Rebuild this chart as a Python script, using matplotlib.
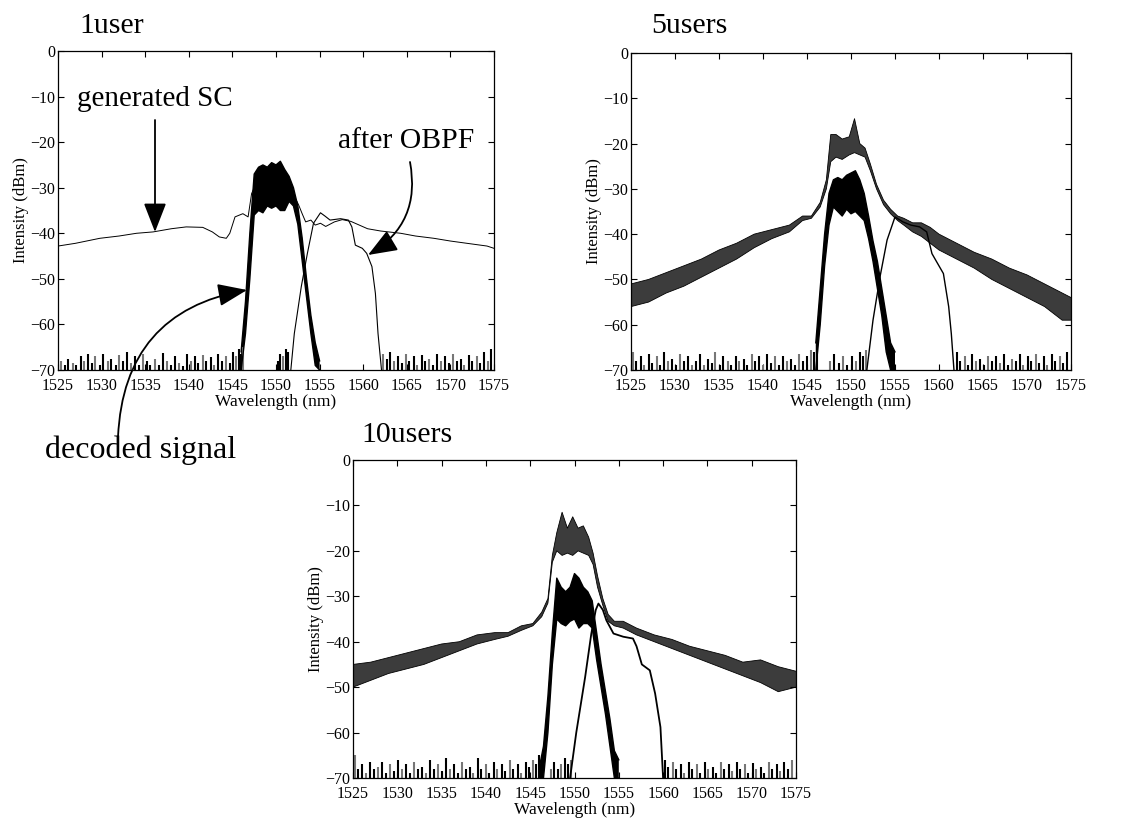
import numpy as np
import matplotlib
matplotlib.use("Agg")
import matplotlib.pyplot as plt

plt.rcParams['font.family'] = ['Liberation Serif', 'DejaVu Serif']
plt.rcParams['axes.unicode_minus'] = True

# ---------------- data ----------------
titles = ["1user", "5users", "10users"]
x_ticks = [1525, 1530, 1535, 1540, 1545, 1550, 1555, 1560, 1565, 1570, 1575]
y_ticks = [0, -10, -20, -30, -40, -50, -60, -70]

# Panel 1: generated SC (thin line)
sc1_x = [1525, 1527, 1529.8, 1532, 1534, 1535.9, 1538, 1539.7, 1541.6, 1542.7, 1543.5,
         1544.3, 1544.7, 1545.3, 1546.2, 1546.8, 1547.2, 1547.5, 1549.5, 1551.5, 1552.4,
         1552.6, 1553.0, 1553.4, 1554.0, 1554.5, 1555.1, 1555.7, 1556.7, 1557.6, 1558.6,
         1560.5, 1562.0, 1564.3, 1566.0, 1568.1, 1570.0, 1571.9, 1574.2, 1575]
sc1_y = [-42.8, -42.2, -41.1, -40.6, -40.0, -39.7, -39.0, -38.6, -38.7, -39.7, -40.8,
         -41.1, -40.0, -36.4, -35.7, -36.4, -31.3, -30.0, -29.0, -31.0, -33.0,
         -33.8, -35.7, -37.5, -37.1, -38.2, -37.8, -38.5, -37.5, -37.0, -37.4,
         -39.0, -39.5, -40.0, -40.6, -41.1, -41.7, -42.2, -42.8, -43.3]
# Panel 1: after OBPF (thin line)
obpf1_x = [1551.7, 1552.1, 1552.9, 1553.6, 1554.3, 1555.1, 1555.6, 1556.2, 1557.4, 1558.3,
           1558.7, 1559.1, 1559.9, 1560.4, 1561.0, 1561.4, 1561.7, 1562.1]
obpf1_y = [-70, -62, -51.7, -44.4, -37.8, -35.5, -36.2, -37.1, -36.8, -37.1,
           -38.6, -42.6, -43.3, -44.4, -47.3, -53.2, -62, -70]
# Panel 1: decoded signal (noisy band, upper / lower envelope)
dec1_x = [1546.0, 1546.5, 1547.0, 1547.5, 1548.0, 1548.5, 1549.0, 1549.5, 1550.0, 1550.5,
          1551.0, 1551.5, 1552.0, 1552.5, 1553.0, 1553.5, 1554.0, 1554.5, 1555.0]
dec1_hi = [-66, -55, -40, -27, -25.5, -25, -25.5, -24.5, -25, -24.2,
           -26, -27.5, -30, -34, -41, -50, -58, -64, -68]
dec1_lo = [-70, -62, -50, -36, -35, -35.5, -34, -34.5, -34, -35,
           -35, -33, -34, -38, -46, -54, -62, -69, -70]
# Panel 1: noise-floor spikes (wavelength, top)
floor1 = [(1525.3, -68), (1525.8, -69), (1526.2, -67.5), (1526.7, -68.5), (1527.1, -69),
          (1527.6, -67), (1528.0, -68), (1528.4, -66.5), (1528.9, -68.5), (1529.3, -67),
          (1529.8, -69), (1530.2, -66.5), (1530.7, -68), (1531.1, -67.5), (1531.6, -69),
          (1532.0, -66.8), (1532.5, -68), (1532.9, -66), (1533.4, -68.5), (1533.8, -67),
          (1534.3, -69), (1534.7, -66.5), (1535.2, -68), (1535.6, -69), (1536.1, -67.5),
          (1536.6, -69), (1537.0, -66.2), (1537.5, -68), (1538.0, -69), (1538.4, -67),
          (1538.9, -68.5), (1539.3, -69.2), (1539.8, -66.5), (1540.2, -68), (1540.7, -67),
          (1541.1, -68.5), (1541.6, -66.8), (1542.0, -68), (1542.5, -67.2), (1542.9, -69),
          (1543.4, -66.5), (1543.8, -68), (1544.3, -67), (1544.7, -68.5), (1545.1, -66),
          (1545.4, -67), (1545.7, -65.5), (1546.0, -66.5), (1546.2, -65),
          (1550.2, -68), (1550.5, -66.5), (1550.8, -67), (1551.1, -65.5), (1551.4, -66),
          (1562.3, -66.5), (1562.7, -67.5), (1563.1, -66), (1563.5, -68), (1564.0, -67),
          (1564.4, -68.5), (1564.9, -66.5), (1565.3, -68), (1565.8, -67), (1566.2, -69),
          (1566.7, -66.8), (1567.1, -68), (1567.6, -67.5), (1568.0, -69), (1568.5, -66.5),
          (1568.9, -68), (1569.4, -67), (1569.8, -68.5), (1570.3, -66.5), (1570.7, -68),
          (1571.2, -67.5), (1571.6, -69), (1572.1, -66.8), (1572.5, -68), (1573.0, -67),
          (1573.4, -68.5), (1573.9, -66), (1574.3, -68), (1574.7, -65.5)]

# Panel 2: SC (noisy band)
sc2_x = [1525, 1527, 1529, 1531, 1533, 1535, 1537, 1539, 1541, 1543, 1544.5, 1545.5,
         1546.5, 1547.2, 1547.7, 1548.3, 1549, 1549.8, 1550.4, 1551, 1551.6, 1552.2,
         1552.9, 1553.7, 1554.5, 1555.3, 1556, 1557, 1558, 1559, 1560, 1562, 1564,
         1566, 1568, 1570, 1572, 1574, 1575]
sc2_hi = [-51, -50, -48.5, -47, -45.5, -43.5, -42, -40, -39, -38, -36, -36,
          -33, -28, -18, -18, -19, -18.5, -14.5, -20, -21, -24.5,
          -29, -32.5, -34.5, -36, -36.5, -37.5, -37.5, -38.5, -40, -42, -44,
          -45.5, -47.5, -49, -51, -53, -54]
sc2_lo = [-56, -55, -53, -51.5, -49.5, -47.5, -45.5, -43, -41, -39.5, -37, -36.5,
          -34, -30, -24, -23, -23.5, -22.5, -22, -22.5, -23, -26,
          -30, -33.5, -35.5, -37, -38, -39.5, -40.5, -42, -43.5, -45.5, -47.5,
          -50, -52, -54, -56, -59, -59]
# Panel 2: decoded
dec2_x = [1546.0, 1546.5, 1547.0, 1547.5, 1548.0, 1548.5, 1549.0, 1549.5, 1550.0, 1550.5,
          1551.0, 1551.5, 1552.0, 1552.5, 1553.0, 1553.5, 1554.0, 1554.5, 1555.0]
dec2_hi = [-64, -52, -40, -31, -28, -27.5, -28, -27, -26.5, -26,
           -28, -31, -36, -41.5, -46, -52, -58, -64, -66]
dec2_lo = [-70, -60, -47, -38, -34, -35, -36, -34.5, -35.5, -35,
           -36, -37, -41, -46, -52, -58, -66, -70, -70]
# Panel 2: after OBPF
obpf2_x = [1551.8, 1552.5, 1553.3, 1554.1, 1555.0, 1555.9, 1556.8, 1557.8, 1558.6, 1559.2,
           1559.7, 1560.5, 1561.1, 1561.4, 1561.7]
obpf2_y = [-70, -59, -49.4, -41.3, -36.2, -37.3, -38, -38.4, -39.5, -44.3,
           -46, -48.7, -56, -62, -70]
floor2 = [(1525.2, -66), (1525.6, -68), (1526.1, -67), (1526.5, -69), (1527.0, -66.5),
          (1527.4, -68.5), (1527.9, -67), (1528.3, -69), (1528.8, -66), (1529.2, -68),
          (1529.7, -67.5), (1530.1, -69), (1530.6, -66.5), (1531.0, -68), (1531.5, -67),
          (1531.9, -69), (1532.4, -68), (1532.8, -66.5), (1533.3, -69), (1533.7, -67.5),
          (1534.2, -68.5), (1534.6, -66), (1535.1, -69), (1535.5, -67), (1536.0, -68),
          (1536.4, -69), (1536.9, -66.8), (1537.3, -68), (1537.8, -67.5), (1538.2, -69),
          (1538.7, -66.5), (1539.1, -68), (1539.6, -67), (1540.0, -69), (1540.5, -66.5),
          (1540.9, -68.5), (1541.4, -67), (1541.8, -69), (1542.3, -66.8), (1542.7, -68),
          (1543.2, -67.5), (1543.6, -69), (1544.1, -66.5), (1544.5, -68), (1545.0, -67),
          (1545.4, -65.5), (1545.8, -66), (1546.1, -64.5),
          (1547.6, -68), (1548.1, -66.5), (1548.6, -68.5), (1549.1, -67), (1549.6, -69),
          (1550.1, -66.8), (1550.6, -68), (1551.0, -66), (1551.4, -67), (1551.7, -65.5),
          (1562.0, -66), (1562.4, -68), (1562.9, -67), (1563.3, -69), (1563.8, -66.5),
          (1564.2, -68), (1564.7, -67.5), (1565.1, -69), (1565.6, -66.8), (1566.0, -68),
          (1566.5, -67), (1566.9, -68.5), (1567.4, -66.5), (1567.8, -69), (1568.3, -67.5),
          (1568.7, -68), (1569.2, -66.5), (1569.6, -69), (1570.1, -67), (1570.5, -68),
          (1571.0, -66.5), (1571.4, -68.5), (1571.9, -67), (1572.3, -69), (1572.8, -66.5),
          (1573.2, -68), (1573.7, -67), (1574.1, -68.5), (1574.6, -66)]

# Panel 3: SC (noisy band)
sc3_x = [1525, 1527, 1529, 1531, 1533, 1535, 1537, 1539, 1541, 1542.5, 1544, 1545.3,
         1546.3, 1547.0, 1547.5, 1548.0, 1548.6, 1549.2, 1549.8, 1550.4, 1551.0, 1551.6,
         1552.1, 1552.6, 1553.2, 1553.8, 1554.5, 1555.5, 1557, 1559, 1561, 1563, 1565,
         1567, 1569, 1571, 1573, 1575]
sc3_hi = [-45, -44.5, -43.5, -42.5, -41.5, -40.5, -40, -38.5, -38, -38, -36.5, -36,
          -33.5, -30.5, -21, -16, -11.5, -15, -12.5, -15, -14.5, -17,
          -20.5, -25.5, -30.5, -34, -35.5, -35.5, -37, -38.5, -39.5, -41, -42,
          -43, -44.5, -44, -45.5, -46.5]
sc3_lo = [-50, -48.5, -47, -46, -45, -43.5, -42, -40.5, -39.5, -38.8, -37.5, -36.5,
          -34.5, -31.5, -22.5, -20, -21, -20.5, -21, -20, -20.5, -21,
          -23, -28, -32, -35.5, -36.5, -37, -38.5, -40, -41.5, -43, -44.5,
          -46, -47.5, -49, -51, -50]
# Panel 3: decoded
dec3_x = [1546.0, 1546.5, 1547.0, 1547.5, 1548.0, 1548.5, 1549.0, 1549.5, 1550.0, 1550.5,
          1551.0, 1551.5, 1552.0, 1552.5, 1553.0, 1553.5, 1554.0, 1554.5, 1555.0]
dec3_hi = [-68, -63, -52, -38, -26, -28, -29, -28, -25, -26,
           -28, -29, -31, -38, -45, -51, -57, -64, -66]
dec3_lo = [-70, -70, -60, -45, -35, -36, -36.5, -35.5, -35, -37,
           -36, -36, -37, -44, -50, -56, -63, -70, -70]
# Panel 3: after OBPF
obpf3_x = [1549.5, 1550.2, 1551.2, 1551.9, 1552.4, 1552.7, 1553.2, 1553.6, 1554.4, 1555.5,
           1556.6, 1557.0, 1557.6, 1558.5, 1559.1, 1559.7, 1560.0]
obpf3_y = [-70, -60, -47.8, -38.2, -33, -31.6, -33, -35.3, -38.2, -38.9,
           -39.3, -41, -45, -46.3, -51.4, -58.8, -70]
floor3 = [(1525.2, -65), (1525.6, -68), (1526.0, -67), (1526.5, -69), (1526.9, -66.5),
          (1527.4, -68), (1527.8, -67.5), (1528.3, -66.5), (1528.7, -69), (1529.2, -67),
          (1529.6, -68.5), (1530.1, -66), (1530.5, -68), (1531.0, -67), (1531.4, -69),
          (1531.9, -66.5), (1532.3, -68), (1532.8, -67.5), (1533.2, -69), (1533.7, -66),
          (1534.1, -68), (1534.6, -67), (1535.0, -68.5), (1535.5, -65.5), (1535.9, -68),
          (1536.4, -67), (1536.8, -69), (1537.3, -66.5), (1537.7, -68), (1538.2, -67.5),
          (1538.6, -69), (1539.1, -65.5), (1539.5, -68), (1540.0, -67), (1540.4, -69),
          (1540.9, -66.5), (1541.3, -68), (1541.8, -67), (1542.2, -68.5), (1542.7, -66),
          (1543.1, -68), (1543.6, -67), (1544.0, -69), (1544.5, -66.5), (1544.9, -67.5),
          (1545.3, -66), (1545.7, -67), (1546.0, -65),
          (1547.3, -68), (1547.7, -66.5), (1548.1, -68), (1548.5, -67), (1548.9, -65.5),
          (1549.3, -67), (1549.6, -66),
          (1560.2, -66), (1560.6, -67.5), (1561.1, -66.5), (1561.5, -68), (1562.0, -67),
          (1562.4, -69), (1562.9, -66.5), (1563.3, -68), (1563.8, -67), (1564.2, -69),
          (1564.7, -66.5), (1565.1, -68), (1565.6, -67.5), (1566.0, -69), (1566.5, -66.5),
          (1566.9, -68), (1567.4, -67), (1567.8, -68.5), (1568.3, -66.5), (1568.7, -68),
          (1569.2, -67), (1569.6, -69), (1570.1, -66.8), (1570.5, -68), (1571.0, -67.5),
          (1571.4, -69), (1571.9, -66.5), (1572.3, -68), (1572.8, -67), (1573.2, -68.5),
          (1573.7, -66.5), (1574.1, -68), (1574.6, -66)]

# ---------------- figure ----------------
W, H = 1131, 819
fig = plt.figure(figsize=(W / 100, H / 100), dpi=100)
fig.patch.set_facecolor('white')


def px_axes(x0, y0, x1, y1):
    return fig.add_axes([x0 / W, 1 - y1 / H, (x1 - x0) / W, (y1 - y0) / H])


def fpx(x, y):
    return (x / W, 1 - y / H)


def style(ax):
    ax.set_xlim(1525, 1575)
    ax.set_ylim(-70, 0)
    ax.set_xticks(x_ticks)
    ax.set_yticks(y_ticks)
    ax.tick_params(direction='in', top=True, right=True, length=4, width=0.8,
                   labelsize=11.5, colors='black')
    ax.tick_params(axis='x', pad=6)
    ax.tick_params(axis='y', pad=2)
    for s in ax.spines.values():
        s.set_linewidth(0.9)
        s.set_color('black')
    ax.set_xlabel("Wavelength (nm)", fontsize=12.5, labelpad=0)
    ax.set_ylabel("Intensity (dBm)", fontsize=12, labelpad=1)


def draw_floor(ax, pairs):
    xs = [p[0] for p in pairs]
    ys = [p[1] for p in pairs]
    cols = ['black' if i % 3 else '#777777' for i in range(len(xs))]
    ax.vlines(xs, -70, ys, colors=cols, linewidth=1.5)


def band(ax, x, hi, lo, face='black', lw=0.7):
    ax.fill_between(x, lo, hi, facecolor=face, linewidth=0)
    ax.plot(x, hi, color='black', lw=lw)
    ax.plot(x, lo, color='black', lw=lw)


ax1 = px_axes(58, 51, 494, 370)
ax2 = px_axes(631, 53, 1071, 370)
ax3 = px_axes(353, 460, 796, 778)

# panel 1
draw_floor(ax1, floor1)
ax1.plot(sc1_x, sc1_y, color='black', lw=0.7)
ax1.plot(obpf1_x, obpf1_y, color='black', lw=0.8)
band(ax1, dec1_x, dec1_hi, dec1_lo, lw=1.0)

# panel 2
draw_floor(ax2, floor2)
band(ax2, sc2_x, sc2_hi, sc2_lo, face='#3c3c3c', lw=0.6)
ax2.plot(obpf2_x, obpf2_y, color='black', lw=1.0)
band(ax2, dec2_x, dec2_hi, dec2_lo, lw=1.0)

# panel 3
draw_floor(ax3, floor3)
band(ax3, sc3_x, sc3_hi, sc3_lo, face='#3c3c3c', lw=0.6)
ax3.plot(obpf3_x, obpf3_y, color='black', lw=1.3)
band(ax3, dec3_x, dec3_hi, dec3_lo, lw=1.0)

for ax in (ax1, ax2, ax3):
    style(ax)

# titles
fig.text(*fpx(79, 33), titles[0], fontsize=21.5, va='baseline', ha='left')
fig.text(*fpx(651, 33), titles[1], fontsize=21.5, va='baseline', ha='left')
fig.text(*fpx(361, 442), titles[2], fontsize=21.5, va='baseline', ha='left')

# annotations (panel 1)
fig.text(*fpx(77, 106), "generated SC", fontsize=21, va='baseline', ha='left')
fig.text(*fpx(338, 148), "after OBPF", fontsize=21.3, va='baseline', ha='left')
fig.text(*fpx(45, 458), "decoded signal", fontsize=23, va='baseline', ha='left')

arrow_kw = dict(arrowstyle='-|>,head_length=0.9,head_width=0.35', color='black',
                lw=1.3, mutation_scale=20, shrinkA=0, shrinkB=0)
ax1.annotate("", xy=fpx(155, 232), xycoords='figure fraction',
             xytext=fpx(155, 120), textcoords='figure fraction',
             arrowprops=dict(**arrow_kw))
ax1.annotate("", xy=fpx(368, 255), xycoords='figure fraction',
             xytext=fpx(410, 162), textcoords='figure fraction',
             arrowprops=dict(connectionstyle='arc3,rad=-0.35', **arrow_kw))
ax1.annotate("", xy=fpx(247, 290), xycoords='figure fraction',
             xytext=fpx(118, 437), textcoords='figure fraction',
             arrowprops=dict(connectionstyle='arc3,rad=-0.4', **arrow_kw),
             annotation_clip=False)

fig.savefig("out.png", dpi=100, facecolor='white')
